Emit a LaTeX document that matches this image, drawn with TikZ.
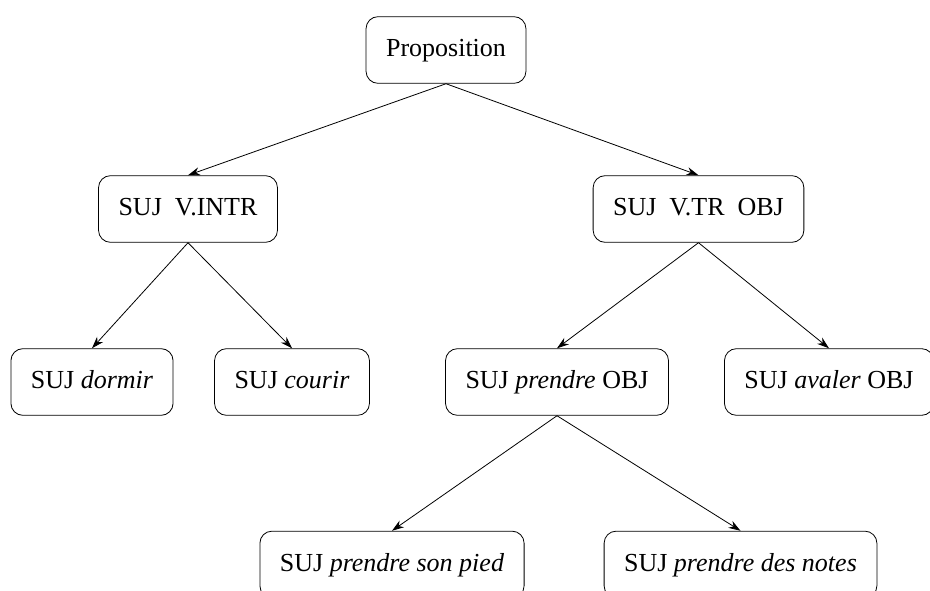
\documentclass[tikz,border=0pt]{standalone}
\usepackage{fontspec}
\setmainfont{Liberation Serif}
\usepackage{tikz}
\usetikzlibrary{arrows.meta}

\begin{document}
\begin{tikzpicture}
                \tikzset{x={(0.75pt, 0pt)}, y={(0pt, -0.75pt)}}
                \tikzset{phrase/.style={draw, semithick, rounded corners=9pt, inner xsep=15pt,
                         minimum height=50pt, text height=14pt, text depth=4pt,
                         font=\fontsize{19.5}{23}\selectfont}}
                \tikzset{branch/.style={semithick, -{Stealth[length=9pt, width=6pt]}}}
                \useasboundingbox (0, 0) rectangle (930, 591);
                % racine
                \node[phrase] (prop) at (446, 50) {Proposition};
                % verbes
                \node[phrase] (intr) at (188, 209) {SUJ~~V.INTR};
                \node[phrase] (tr)   at (698.5, 209) {SUJ~~V.TR~~OBJ};
                % exemples
                \node[phrase] (dormir)  at ( 92, 382) {SUJ \textit{dormir}};
                \node[phrase] (courir)  at (292, 382) {SUJ \textit{courir}};
                \node[phrase] (prendre) at (557, 382) {SUJ \textit{prendre} OBJ};
                \node[phrase] (avaler)  at (829, 382) {SUJ \textit{avaler} OBJ};
                \node[phrase] (pied)    at (392, 564.5) {SUJ \textit{prendre son pied}};
                \node[phrase] (notes)   at (740.5, 564.5) {SUJ \textit{prendre des notes}};
                % branches
                \draw[branch] (prop.south) -- (intr.north);
                \draw[branch] (prop.south) -- (tr.north);
                \draw[branch] (intr.south) -- (dormir.north);
                \draw[branch] (intr.south) -- (courir.north);
                \draw[branch] (tr.south) -- (prendre.north);
                \draw[branch] (tr.south) -- (avaler.north);
                \draw[branch] (prendre.south) -- (pied.north);
                \draw[branch] (prendre.south) -- (notes.north);
            \end{tikzpicture}
\end{document}
